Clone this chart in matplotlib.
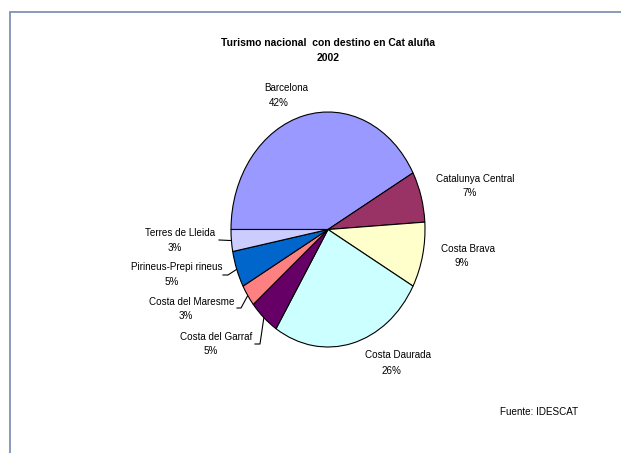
import matplotlib
matplotlib.use("Agg")
import matplotlib.pyplot as plt
from matplotlib import font_manager
from matplotlib.lines import Line2D
import numpy as np

# ---------------- data ----------------
categories = ["Barcelona", "Catalunya Central", "Costa Brava", "Costa Daurada",
              "Costa del Garraf", "Costa del Maresme", "Pirineus-Prepi rineus",
              "Terres de Lleida"]
values = [42, 7, 9, 26, 5, 3, 5, 3]
colors = ["#9999FF", "#993366", "#FFFFCC", "#CCFFFF", "#660066", "#FF8080",
          "#0066CC", "#CCCCFF"]
title_lines = ["Turismo nacional  con destino en Cat aluña", "2002"]
source_text = "Fuente: IDESCAT"

# label positions (pixels from top-left): name line, percent line
label_pos = {
    "Barcelona": ((286, 88), (279, 103)),
    "Catalunya Central": ((475, 179), (470, 193)),
    "Costa Brava": ((468, 249), (462, 263)),
    "Costa Daurada": ((398, 355), (391, 371)),
    "Costa del Garraf": ((216, 337), (211, 351)),
    "Costa del Maresme": ((192, 302), (186, 316)),
    "Pirineus-Prepi rineus": ((177, 267), (172, 282)),
    "Terres de Lleida": ((180, 233), (175, 248)),
}
# leader line anchor near label (pixels)
leader_anchor = {
    "Costa del Garraf": [(255, 344), (260, 344)],
    "Costa del Maresme": [(237, 308), (241, 308)],
    "Pirineus-Prepi rineus": [(223, 275), (228, 275)],
    "Terres de Lleida": [(219, 240)],
}

# ---------------- fonts ----------------
names = {f.name for f in font_manager.fontManager.ttflist}
if "Liberation Sans Narrow" in names:
    FAM = "Liberation Sans Narrow"
    fs_lab, fs_title = 8.0, 8.9
else:
    FAM = "Liberation Sans"
    fs_lab, fs_title = 7.1, 7.5

W, H = 621, 453
fig = plt.figure(figsize=(W / 100, H / 100), dpi=100)
fig.patch.set_facecolor("white")

# overlay axes in pixel coordinates
ov = fig.add_axes([0, 0, 1, 1])
ov.set_xlim(0, W)
ov.set_ylim(H, 0)
ov.axis("off")

# border of chart area
ov.add_line(Line2D([9.5, 9.5, W + 5], [H + 5, 11.5, 11.5], color="#8093B4",
                   lw=1.3, solid_joinstyle="miter"))

# pie axes: ellipse center (328, 229.5), rx 97, ry 117.5
cx, cy, rx, ry = 328, 229.5, 97, 117.5
axp = fig.add_axes([(cx - rx) / W, (H - (cy + ry)) / H, 2 * rx / W, 2 * ry / H])
wedges, _ = axp.pie(values, colors=colors, startangle=180, counterclock=False,
                    wedgeprops=dict(edgecolor="black", linewidth=0.8))
axp.set_aspect("auto")
axp.set_xlim(-1, 1)
axp.set_ylim(-1, 1)
axp.axis("off")
for w in wedges:
    w.set_clip_on(False)

# title
ov.text(328, 43, title_lines[0], ha="center", va="center", family=FAM,
        fontsize=fs_title, fontweight="bold")
ov.text(328, 58, title_lines[1], ha="center", va="center", family=FAM,
        fontsize=fs_title, fontweight="bold")

# labels
total = sum(values)
for cat, val, wdg in zip(categories, values, wedges):
    (nx, ny), (px, py) = label_pos[cat]
    ov.text(nx, ny, cat, ha="center", va="center", family=FAM, fontsize=fs_lab)
    ov.text(px, py, f"{round(100 * val / total)}%", ha="center", va="center",
            family=FAM, fontsize=fs_lab)
    if cat in leader_anchor:
        mid = np.deg2rad((wdg.theta1 + wdg.theta2) / 2)
        ex, ey = np.cos(mid), np.sin(mid)
        disp = axp.transData.transform((ex, ey))
        ox, oy = ov.transData.inverted().transform(disp)
        pts = leader_anchor[cat] + [(ox, oy)]
        ov.add_line(Line2D([p[0] for p in pts], [p[1] for p in pts],
                           color="black", lw=0.8))

ov.text(539, 412, source_text, ha="center", va="center", family=FAM,
        fontsize=fs_lab)

fig.savefig("out.png", dpi=100, facecolor="white")
